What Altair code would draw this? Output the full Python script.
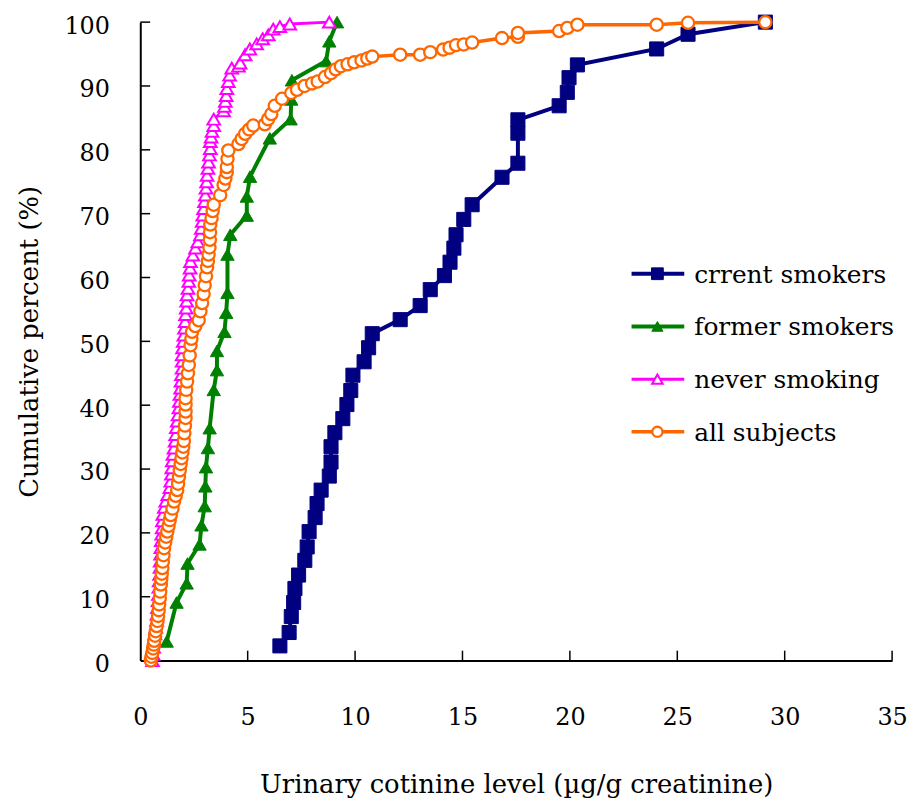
import altair as alt
import pandas as pd

# ---------------- data ----------------
series_names = ["crrent smokers", "former smokers", "never smoking", "all subjects"]
series_colors = ["#000080", "#008000", "#FF00FF", "#FF6600"]

cur_x = [6.5, 6.93, 7.03, 7.14, 7.2, 7.37, 7.66, 7.77, 7.86, 8.14, 8.23, 8.42, 8.8, 8.88, 8.88,
         9.06, 9.43, 9.62, 9.8, 9.9, 10.42, 10.63, 10.8, 12.1, 13.03, 13.5, 14.16, 14.42, 14.6,
         14.7, 15.06, 15.45, 16.84, 17.58, 17.58, 17.58, 19.5, 19.88, 19.96, 20.35, 24.04, 25.5, 29.1]
cur_y = [2.3, 4.4, 6.9, 9.1, 11.3, 13.4, 15.7, 17.8, 20.2, 22.4, 24.6, 26.7, 28.9, 31.1, 33.5,
         35.7, 37.9, 40.1, 42.3, 44.7, 46.8, 49.0, 51.2, 53.4, 55.6, 58.1, 60.3, 62.4, 64.6,
         66.7, 69.1, 71.4, 75.7, 77.9, 82.6, 84.7, 86.9, 89.0, 91.3, 93.3, 95.8, 98.1, 100.0]

former_x = [1.23, 1.69, 2.16, 2.2, 2.76, 2.85, 3.0, 3.03, 3.06, 3.15, 3.23, 3.42, 3.57, 3.57,
            3.92, 4.0, 4.06, 4.06, 4.19, 4.96, 4.96, 5.11, 6.03, 7.0, 7.03, 7.06, 8.65, 8.8, 9.16]
former_y = [3.0, 9.1, 12.1, 15.2, 18.2, 21.2, 24.2, 27.3, 30.3, 33.3, 36.4, 42.4, 45.5, 48.5,
            51.5, 54.5, 57.6, 63.6, 66.7, 69.7, 72.7, 75.8, 81.8, 84.8, 87.9, 90.9, 93.9, 97.0, 100.0]

never_x = [0.57, 0.60, 0.62, 0.65, 0.68, 0.72, 0.76, 0.78, 0.80, 0.83, 0.85, 0.87, 0.88, 0.90,
           0.92, 0.93, 0.95, 0.96, 0.98, 1.00, 1.02, 1.03, 1.05, 1.12, 1.19, 1.28, 1.38, 1.42,
           1.45, 1.47, 1.49, 1.52, 1.57, 1.62, 1.65, 1.68, 1.72, 1.76, 1.80, 1.82, 1.85, 1.88,
           1.90, 1.92, 1.95, 1.95, 1.95, 1.97, 2.00, 2.03, 2.06, 2.09, 2.11, 2.14, 2.16, 2.18,
           2.22, 2.26, 2.28, 2.32, 2.34, 2.45, 2.57, 2.68, 2.80, 2.84, 2.88, 2.91, 2.95, 2.99,
           3.03, 3.06, 3.09, 3.11, 3.15, 3.18, 3.22, 3.26, 3.26, 3.30, 3.34, 3.42, 3.42, 3.88,
           3.92, 3.96, 4.00, 4.03, 4.10, 4.16, 4.26, 4.57, 4.65, 4.88, 5.10, 5.42, 5.70, 5.96,
           6.19, 6.50, 6.96, 8.80]
never_y = [0.0, 1.0, 2.1, 3.1, 4.2, 5.2, 6.3, 7.3, 8.3, 9.4, 10.4, 11.5, 12.5, 13.5,
           14.6, 15.6, 16.7, 17.7, 18.8, 19.8, 20.8, 21.9, 22.9, 24.0, 25.0, 26.0, 27.1, 28.1,
           29.2, 30.2, 31.3, 32.3, 33.3, 34.4, 35.4, 36.5, 37.5, 38.5, 39.6, 40.6, 41.7, 42.7,
           43.8, 44.8, 45.8, 46.9, 47.9, 49.0, 50.0, 51.0, 52.1, 53.1, 54.2, 55.2, 56.3, 57.3,
           58.3, 59.4, 60.4, 61.5, 62.5, 63.5, 64.6, 65.6, 66.7, 67.7, 68.8, 69.8, 70.8, 71.9,
           72.9, 74.0, 75.0, 76.0, 77.1, 78.1, 79.2, 80.2, 81.3, 82.0, 82.9, 83.8, 84.8, 86.1,
           86.8, 87.6, 88.5, 89.6, 90.7, 91.7, 92.8, 93.1, 93.6, 94.9, 95.8, 96.6, 97.4, 98.0,
           98.9, 99.3, 99.7, 100.0]

all_x = [0.49, 0.52, 0.56, 0.60, 0.63, 0.65, 0.69, 0.72, 0.76, 0.80, 0.83, 0.86, 0.88, 0.91,
         0.93, 0.96, 0.98, 1.00, 1.03, 1.05, 1.08, 1.11, 1.16, 1.21, 1.26, 1.32, 1.37, 1.42,
         1.50, 1.57, 1.65, 1.72, 1.76, 1.80, 1.84, 1.88, 1.92, 1.96, 2.00, 2.03, 2.05, 2.08,
         2.11, 2.11, 2.11, 2.11, 2.14, 2.18, 2.22, 2.26, 2.30, 2.34, 2.38, 2.41, 2.56, 2.72,
         2.80, 2.88, 2.95, 3.00, 3.06, 3.11, 3.15, 3.18, 3.22, 3.24, 3.25, 3.26, 3.32, 3.37,
         3.42, 3.72, 3.88, 3.96, 4.03, 4.03, 4.06, 4.10, 4.57, 4.72, 4.88, 5.07, 5.26, 5.80,
         5.95, 6.10, 6.26, 6.60, 7.03, 7.30, 7.65, 8.00, 8.26, 8.60, 8.88, 9.10, 9.34, 9.65,
         9.96, 10.30, 10.57, 10.80, 12.10, 13.03, 13.50, 14.10, 14.40, 14.70, 15.06, 15.45,
         16.84, 17.58, 17.58, 19.50, 19.88, 20.35, 24.04, 25.50, 29.10]
all_y = [0.0, 0.6, 1.2, 1.9, 2.5, 3.1, 3.9, 4.6, 5.4, 6.2, 7.0, 7.9, 8.8, 9.8,
         10.8, 11.9, 12.8, 13.6, 14.5, 15.5, 16.5, 17.6, 18.5, 19.4, 20.2, 21.1, 22.0, 22.8,
         23.8, 24.9, 25.8, 26.7, 27.7, 28.8, 29.8, 30.8, 31.7, 32.6, 33.5, 34.4, 35.6, 36.8,
         38.0, 39.0, 40.1, 41.1, 42.4, 43.7, 45.0, 46.3, 47.8, 49.4, 50.4, 51.5, 52.4, 53.3,
         54.7, 56.0, 57.4, 58.8, 60.2, 61.6, 62.6, 63.6, 64.7, 65.9, 67.1, 68.3, 69.3, 70.4,
         71.4, 72.9, 74.5, 75.5, 76.5, 77.3, 78.6, 79.9, 80.9, 81.7, 82.5, 83.2, 83.8, 84.0,
         84.8, 85.6, 86.9, 88.0, 88.9, 89.4, 90.0, 90.4, 90.7, 91.4, 92.0, 92.6, 93.1, 93.4,
         93.7, 94.0, 94.3, 94.6, 94.9, 94.9, 95.3, 95.7, 96.0, 96.4, 96.5, 96.8,
         97.5, 97.7, 98.3, 98.6, 99.1, 99.6, 99.6, 99.9, 100.0]

x_tick_values = [0, 5, 10, 15, 20, 25, 30, 35]
y_tick_values = [0, 10, 20, 30, 40, 50, 60, 70, 80, 90, 100]

# ---------------- chart ----------------
FONT = "DejaVu Serif"

def sdf(name, xs, ys):
    return pd.DataFrame({"x": xs, "y": ys, "i": list(range(len(xs))), "series": name})

xenc = alt.X("x:Q", scale=alt.Scale(domain=[0, 35], nice=False, zero=False),
             axis=alt.Axis(values=x_tick_values, title="Urinary cotinine level (µg/g creatinine)",
                           labelPadding=45, titlePadding=43, labelFlush=False))
yenc = alt.Y("y:Q", scale=alt.Scale(domain=[0, 100], nice=False),
             axis=alt.Axis(values=y_tick_values, title="Cumulative percent (%)",
                           labelPadding=31, titlePadding=22, labelFlush=False, labelOffset=4))

layers = []

# inward tick marks
xt = pd.DataFrame({"x": x_tick_values[1:], "y": 0.0, "y2": 1.55})
layers.append(alt.Chart(xt).mark_rule(color="black", strokeWidth=1.5).encode(x=xenc, y=yenc, y2="y2:Q"))
yt = pd.DataFrame({"y": y_tick_values[1:], "x": 0.0, "x2": 0.46})
layers.append(alt.Chart(yt).mark_rule(color="black", strokeWidth=1.5).encode(x=xenc, x2="x2:Q", y=yenc))

data_sets = [(cur_x, cur_y), (former_x, former_y), (never_x, never_y), (all_x, all_y)]
styles = [
    dict(shape="square", fill="#000080", stroke="#000080", size=200, strokeWidth=1, lw=4),
    dict(shape="triangle-up", fill="#008000", stroke="#008000", size=180, strokeWidth=1, lw=4),
    dict(shape="triangle-up", fill="white", stroke="#FF00FF", size=160, strokeWidth=2, lw=3),
    dict(shape="circle", fill="white", stroke="#FF6600", size=150, strokeWidth=2.3, lw=3.5),
]

for name, col, (xs, ys), st in zip(series_names, series_colors, data_sets, styles):
    df = sdf(name, xs, ys)
    layers.append(alt.Chart(df).mark_line(color=col, strokeWidth=st["lw"]).encode(
        x=xenc, y=yenc, order="i:Q"))
    layers.append(alt.Chart(df).mark_point(shape=st["shape"], filled=True, fill=st["fill"],
                                           stroke=st["stroke"], strokeWidth=st["strokeWidth"],
                                           size=st["size"], opacity=1).encode(x=xenc, y=yenc))

# legend (inside plot area)
leg_rows = [253, 306, 359, 412]
for name, col, st, ry in zip(series_names, series_colors, styles, leg_rows):
    ldf = pd.DataFrame({"series": [name]})
    layers.append(alt.Chart(ldf).mark_rule(color=col, strokeWidth=st["lw"]).encode(
        x=alt.value(494), x2=alt.value(547), y=alt.value(ry)))
    layers.append(alt.Chart(ldf).mark_point(shape=st["shape"], filled=True, fill=st["fill"],
                                            stroke=st["stroke"], strokeWidth=st["strokeWidth"],
                                            size=st["size"] * 0.7, opacity=1).encode(
        x=alt.value(520), y=alt.value(ry)))
    layers.append(alt.Chart(ldf).mark_text(align="left", baseline="middle", font=FONT, fontSize=25,
                                           color="black").encode(
        x=alt.value(557), y=alt.value(ry + 1), text="series:N"))

chart = alt.layer(*layers).properties(
    width=756, height=642,
    padding={"left": 133, "top": 12, "right": 18, "bottom": 142},
    autosize=alt.AutoSizeParams(type="none"),
).configure_view(stroke=None).configure_axis(
    domainColor="black", domainWidth=2, ticks=False, grid=False,
    labelFont=FONT, labelFontSize=24, labelColor="black",
    titleFont=FONT, titleFontSize=26, titleFontWeight="normal", titleColor="black",
)

chart.save("out.html", embed_options={"renderer": "svg", "actions": False})
